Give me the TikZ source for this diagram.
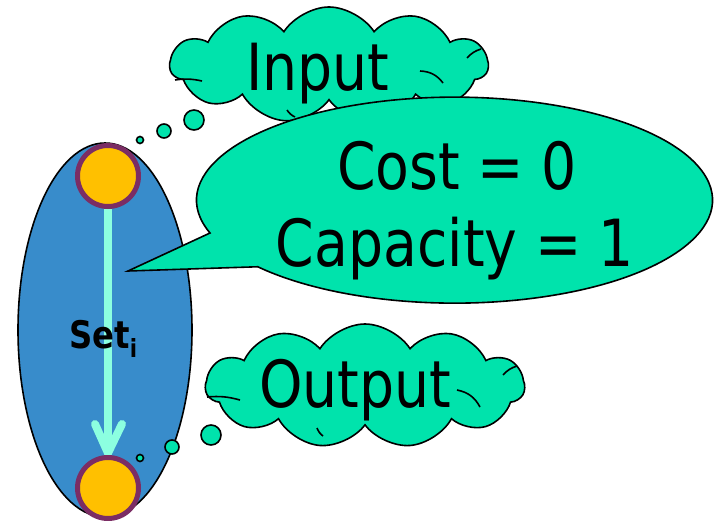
\documentclass[tikz,border=0pt]{standalone}
\usepackage{fontspec}
\usetikzlibrary{shapes.symbols}
\newfontfamily\tah[FakeStretch=0.85]{DejaVu Sans}
\definecolor{cloudgreen}{HTML}{00E3AC}
\definecolor{setblue}{HTML}{388CCB}
\definecolor{nodeorange}{HTML}{FFC000}
\definecolor{nodepurple}{HTML}{7B2D64}
\definecolor{arrowaqua}{HTML}{8CFFE0}
\tikzset{
  outl/.style={draw=black, line width=1.6pt},
  greenfill/.style={outl, fill=cloudgreen},
  vertexnode/.style={circle, draw=nodepurple, fill=nodeorange, line width=5pt, minimum size=61pt, inner sep=0pt},
  cloudnode/.style={cloud, greenfill, cloud puffs=11, cloud puff arc=115, inner sep=0pt},
  bigtext/.style={font=\tah\fontsize{65}{65}\selectfont, inner sep=0pt, anchor=base},
  curl/.style={draw=black, line width=1.6pt},
  dot/.style={circle, greenfill, inner sep=0pt}
}
\begin{document}
\begin{tikzpicture}[x=1pt, y=-1pt]
\useasboundingbox (0,0) rectangle (719,521);
% set ellipse
\draw[outl, fill=setblue] (105,330) ellipse [x radius=87, y radius=187];
% arrow
\coordinate (atop) at (108,207);
\coordinate (atip) at (108,453);
\draw[arrowaqua, line width=8pt, line cap=round] (atop) -- (atip);
\draw[arrowaqua, line width=8pt, line cap=round, line join=round] (95,424) -- (atip) -- (122,424);
% vertices
\node[vertexnode] (vin) at (108,176) {};
\node[vertexnode] (vout) at (108,488) {};
\node[font=\tah\bfseries\fontsize{38}{38}\selectfont, inner sep=0pt, anchor=base west] (setlbl) at (69,348) {Set\raisebox{-9pt}{\fontsize{25}{25}\selectfont i}};
% input cloud
\node[cloudnode, minimum width=318pt, minimum height=116pt] (incloud) at (329,65) {};
\draw[curl] (175,80) to[bend left=10] (202,81);
\draw[curl] (420,71) to[bend left=25] (443,83);
\draw[curl] (467,58) to[bend left=15] (481,49);
\draw[curl] (287,110) to[bend right=15] (295,117);
\node[bigtext] (intext) at (318,91) {Input};
% thought dots for input
\node[dot, minimum size=7pt] (d1) at (140,140) {};
\node[dot, minimum size=14pt] (d2) at (164,131) {};
\node[dot, minimum size=20pt] (d3) at (194,120) {};
% speech bubble
\coordinate (tailtip) at (128,271);
\draw[greenfill, line join=miter] (tailtip) -- (210,233)
  arc[start angle=161.4, end angle=499.7, x radius=258, y radius=103] -- cycle;
\node[bigtext] (cost) at (457,190) {Cost = 0};
\node[bigtext] (capa) at (455,266) {Capacity = 1};
% output cloud
\node[cloudnode, minimum width=319pt, minimum height=124pt] (outcloud) at (365,386) {};
\draw[curl] (207,397) to[bend left=10] (240,400);
\draw[curl] (457,390) to[bend left=25] (480,407);
\draw[curl] (503,375) to[bend left=15] (517,366);
\draw[curl] (317,428) to[bend right=15] (323,436);
\node[bigtext] (outtext) at (355,407) {Output};
% thought dots for output
\node[dot, minimum size=7pt] (e1) at (140,458) {};
\node[dot, minimum size=14pt] (e2) at (172,447) {};
\node[dot, minimum size=20pt] (e3) at (211,435) {};
\end{tikzpicture}
\end{document}
